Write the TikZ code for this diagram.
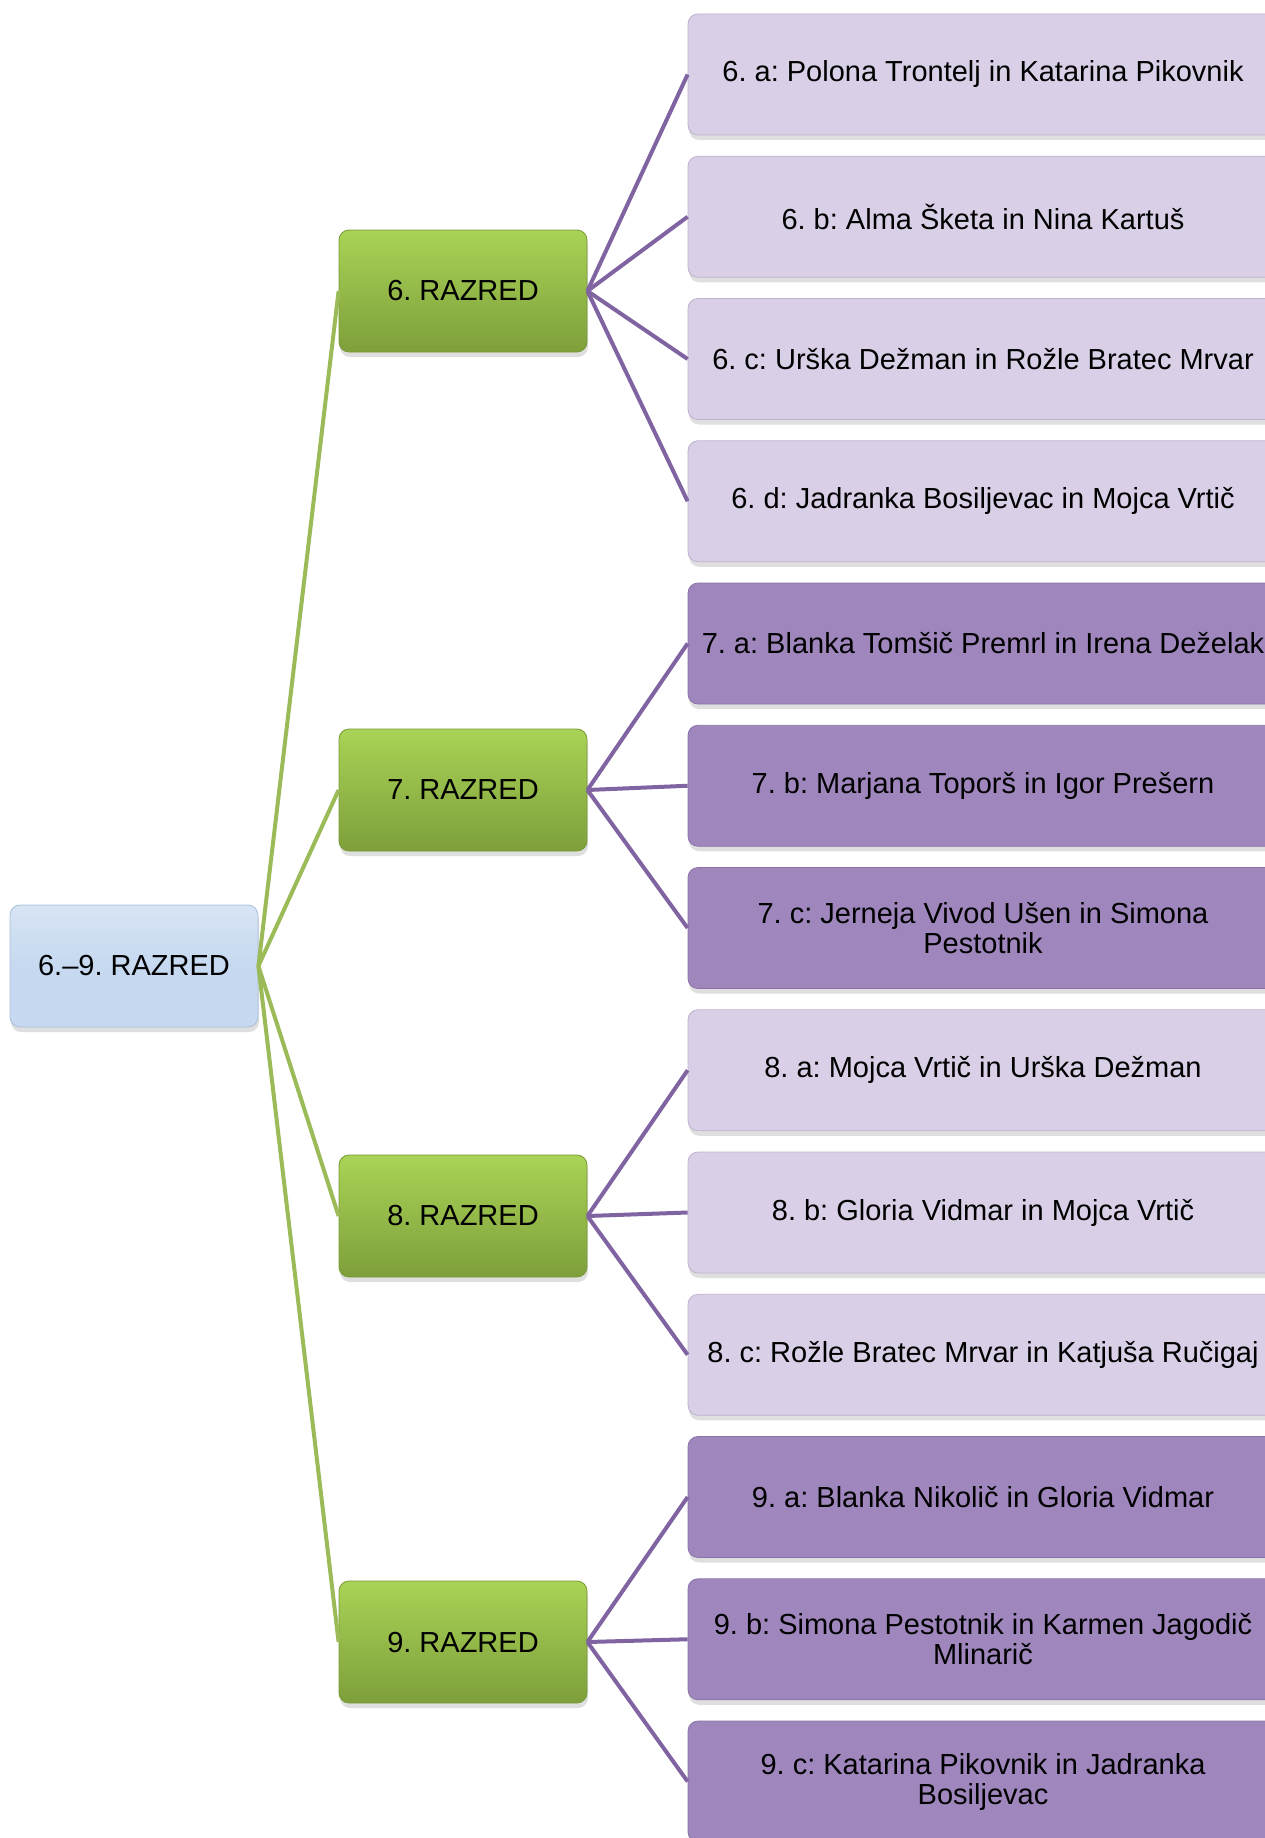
\documentclass[tikz,border=0pt]{standalone}
\usepackage{fontspec}
\setmainfont{Liberation Sans}
\frenchspacing
\usetikzlibrary{shadows}
\definecolor{rootfill}{HTML}{C6D9F0}
\definecolor{rootedge}{HTML}{A9BFD9}
\definecolor{grtop}{HTML}{A9D356}
\definecolor{grbot}{HTML}{7E9F3B}
\definecolor{gredge}{HTML}{789A36}
\definecolor{lpfill}{HTML}{D9D0E7}
\definecolor{lpedge}{HTML}{BDB2CE}
\definecolor{dpfill}{HTML}{9F87BE}
\definecolor{dpedge}{HTML}{8A73A8}
\definecolor{grline}{HTML}{9BBB59}
\definecolor{puline}{HTML}{8064A2}
\tikzset{
  x=1pt, y=-1pt,
  boxbase/.style={rounded corners=10pt, inner sep=2pt, align=center,
    font=\fontsize{29}{30}\selectfont, text=black,
    drop shadow={shadow xshift=1pt, shadow yshift=-5pt, opacity=0.18, fill=black!70}},
  rootbox/.style={boxbase, minimum width=248pt, minimum height=122pt,
    top color=rootfill!70!white, bottom color=rootfill, middle color=rootfill, draw=rootedge, line width=0.8pt},
  grbox/.style={boxbase, minimum width=248pt, minimum height=122pt,
    top color=grtop, bottom color=grbot, draw=gredge, line width=0.8pt},
  lpbox/.style={boxbase, minimum width=590pt, minimum height=121pt,
    fill=lpfill, draw=lpedge, line width=0.8pt},
  dpbox/.style={boxbase, minimum width=590pt, minimum height=121pt,
    fill=dpfill, draw=dpedge, line width=0.8pt},
  grconn/.style={draw=grline, line width=4pt},
  puconn/.style={draw=puline, line width=4pt},
}
\begin{document}
\begin{tikzpicture}
\useasboundingbox (0,0) rectangle (1265,1838);
% root
\node[rootbox] (root) at (134,966) {6.–9. RAZRED};
% grades
\node[grbox] (g6) at (463,291) {6. RAZRED};
\node[grbox] (g7) at (463,790) {7. RAZRED};
\node[grbox] (g8) at (463,1216) {8. RAZRED};
\node[grbox] (g9) at (463,1642) {9. RAZRED};
% classes
\node[lpbox] (c6a) at (983,74.5) {6. a: Polona Trontelj in Katarina Pikovnik};
\node[lpbox] (c6b) at (983,216.75) {6. b: Alma Šketa in Nina Kartuš};
\node[lpbox] (c6c) at (983,359) {6. c: Urška Dežman in Rožle Bratec Mrvar};
\node[lpbox] (c6d) at (983,501.25) {6. d: Jadranka Bosiljevac in Mojca Vrtič};
\node[dpbox] (c7a) at (983,643.5) {7. a: Blanka Tomšič Premrl in Irena Deželak};
\node[dpbox] (c7b) at (983,785.75) {7. b: Marjana Toporš in Igor Prešern};
\node[dpbox] (c7c) at (983,928) {7. c: Jerneja Vivod Ušen in Simona\\Pestotnik};
\node[lpbox] (c8a) at (983,1070.25) {8. a: Mojca Vrtič in Urška Dežman};
\node[lpbox] (c8b) at (983,1212.5) {8. b: Gloria Vidmar in Mojca Vrtič};
\node[lpbox] (c8c) at (983,1354.75) {8. c: Rožle Bratec Mrvar in Katjuša Ručigaj};
\node[dpbox] (c9a) at (983,1497) {9. a: Blanka Nikolič in Gloria Vidmar};
\node[dpbox] (c9b) at (983,1639.25) {9. b: Simona Pestotnik in Karmen Jagodič\\Mlinarič};
\node[dpbox] (c9c) at (983,1781.5) {9. c: Katarina Pikovnik in Jadranka\\Bosiljevac};
% connectors
\foreach \g in {g6,g7,g8,g9} \draw[grconn] (root.east) -- (\g.west);
\foreach \c in {c6a,c6b,c6c,c6d} \draw[puconn] (g6.east) -- (\c.west);
\foreach \c in {c7a,c7b,c7c} \draw[puconn] (g7.east) -- (\c.west);
\foreach \c in {c8a,c8b,c8c} \draw[puconn] (g8.east) -- (\c.west);
\foreach \c in {c9a,c9b,c9c} \draw[puconn] (g9.east) -- (\c.west);
\end{tikzpicture}
\end{document}
